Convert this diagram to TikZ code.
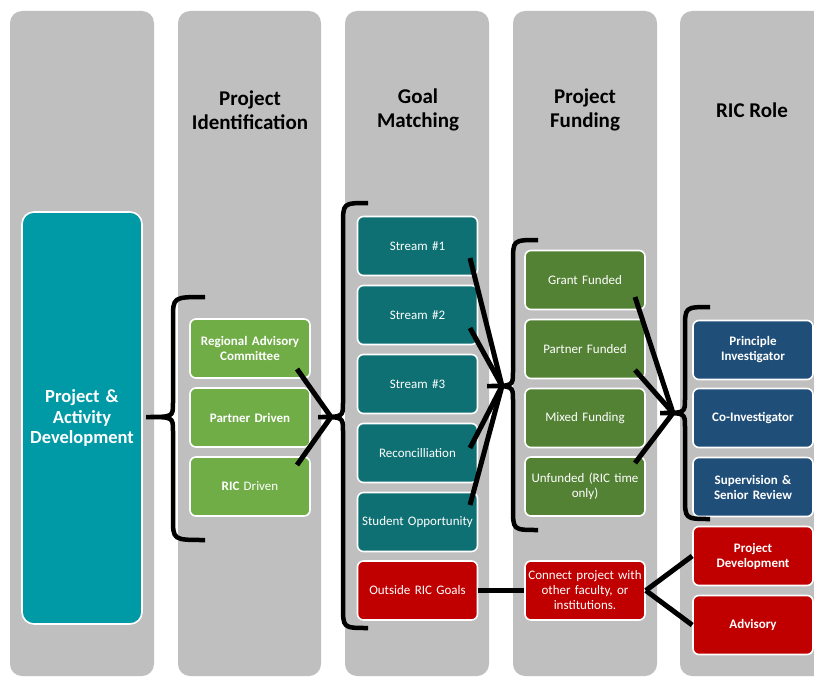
\documentclass[tikz,border=0pt]{standalone}
\usepackage{fontspec}
\setmainfont{Carlito}
\definecolor{colgray}{RGB}{191,191,191}
\definecolor{bigteal}{RGB}{0,153,166}
\definecolor{lgreen}{RGB}{112,173,71}
\definecolor{dteal}{RGB}{14,112,115}
\definecolor{dgreen}{RGB}{84,130,53}
\definecolor{dblue}{RGB}{31,78,121}
\definecolor{dred}{RGB}{192,0,0}
\newcommand\mybrace[6]{% tipx tipy vx top bot endx
  \draw[bracestyle] (#6,#4) .. controls (#3,#4) .. (#3,#4+22) -- (#3,#2-14) .. controls (#3,#2) .. (#1,#2) .. controls (#3,#2) .. (#3,#2+14) -- (#3,#5-22) .. controls (#3,#5) .. (#6,#5);}
\begin{document}
\begin{tikzpicture}[x=1pt,y=-1pt,
  bracestyle/.style={draw=black,line width=4.5pt,line cap=butt},
  conn/.style={draw=black,line width=5pt},
  col/.style={fill=colgray,rounded corners=12pt},
  box/.style={draw=white,line width=1.6pt,rounded corners=6pt,minimum width=120pt,minimum height=59pt,text width=118pt,align=center,text=white,inner sep=1pt,font=\fontsize{13}{15}\selectfont},
  bbox/.style={box,font=\fontsize{13}{15}\selectfont\bfseries},
  head/.style={align=center,font=\fontsize{21}{24}\selectfont\bfseries,text=black}]
\clip (0,0) rectangle (814,677);
\fill[white] (0,0) rectangle (814,677);
% columns
\fill[col] (10,11) rectangle (154,676);
\fill[col] (178,11) rectangle (321,676);
\fill[col] (345,11) rectangle (489,676);
\fill[col] (513,11) rectangle (657,676);
\fill[col] (680,11) rectangle (830,676);
% headers
\node[head] (h2) at (250,110) {Project\\Identification};
\node[head] (h3) at (418,110) {Goal\\Matching};
\node[head] (h4) at (585,110) {Project\\Funding};
\node[head] (h5) at (752,110) {RIC Role};
% column 1
\node[box,fill=bigteal,minimum height=412pt,rounded corners=12pt,font=\fontsize{18.5}{20.5}\selectfont\bfseries] (pad) at (82,418) {Project \&\\Activity\\Development};
% column 2
\node[bbox,fill=lgreen] (rac) at (250,348.5) {Regional Advisory\\Committee};
\node[bbox,fill=lgreen] (pdr) at (250,417.5) {Partner Driven};
\node[box,fill=lgreen] (ric) at (250,486.5) {\textbf{RIC} Driven};
% column 3
\node[box,fill=dteal] (s1) at (417.5,246) {Stream \#1};
\node[box,fill=dteal] (s2) at (417.5,315) {Stream \#2};
\node[box,fill=dteal] (s3) at (417.5,384) {Stream \#3};
\node[box,fill=dteal] (rec) at (417.5,453) {Reconcilliation};
\node[box,fill=dteal] (stu) at (417.5,522) {Student Opportunity};
\node[box,fill=dred] (out) at (417.5,590.5) {Outside RIC Goals};
% column 4
\node[box,fill=dgreen] (gf) at (585,280) {Grant Funded};
\node[box,fill=dgreen] (pf) at (585,349) {Partner Funded};
\node[box,fill=dgreen] (mf) at (585,418) {Mixed Funding};
\node[box,fill=dgreen] (uf) at (585,486.5) {Unfunded (RIC time\\only)};
\node[box,fill=dred] (con) at (585,590.5) {Connect project with\\other faculty, or\\institutions.};
% column 5
\node[bbox,fill=dblue] (pi) at (753,350) {Principle\\Investigator};
\node[bbox,fill=dblue] (ci) at (753,418) {Co-Investigator};
\node[bbox,fill=dblue] (ssr) at (753,487) {Supervision \&\\Senior Review};
\node[bbox,fill=dred] (pdv) at (753,556) {Project\\Development};
\node[bbox,fill=dred] (adv) at (753,625) {Advisory};
% braces
\mybrace{146}{417}{173}{297}{540}{205}
\mybrace{318}{417}{343}{203}{628}{368}
\mybrace{487}{386}{513}{240}{530}{538}
\mybrace{660}{413}{685}{307}{519}{710}
% junction points
\coordinate (j2) at (331,417);
\coordinate (j3) at (502,386);
\coordinate (j4) at (673,413);
\coordinate (racp) at (297,369);
\coordinate (ricp) at (297,465);
\coordinate (s1p) at (470,258);
\coordinate (s2p) at (470,328);
\coordinate (recp) at (470,448);
\coordinate (stup) at (470,505);
\coordinate (gfp) at (635,297);
\coordinate (pfp) at (635,370);
\coordinate (ufp) at (635,463);
% connectors
\draw[conn] (racp) -- (j2);
\draw[conn] (ricp) -- (j2);
\draw[conn] (s1p) -- (j3);
\draw[conn] (s2p) -- (j3);
\draw[conn] (recp) -- (j3);
\draw[conn] (stup) -- (j3);
\draw[conn] (gfp) -- (j4);
\draw[conn] (pfp) -- (j4);
\draw[conn] (ufp) -- (j4);
\draw[conn] (out.east) -- (con.west);
\draw[conn] (con.east) -- (pdv.west);
\draw[conn] (con.east) -- (adv.west);
\end{tikzpicture}
\end{document}
